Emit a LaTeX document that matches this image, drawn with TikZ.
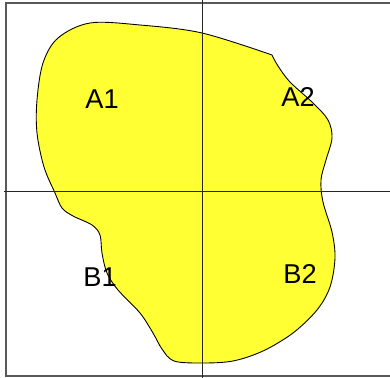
\documentclass[tikz,border=0pt]{standalone}
\usepackage{fontspec}
\setmainfont{Liberation Sans}
\usetikzlibrary{positioning}
\definecolor{blobyellow}{RGB}{255,255,51}

\begin{document}
\begin{tikzpicture}[
    x=0.02cm, y=-0.02cm,
    frame/.style={draw=black!65, line width=0.8pt},
    axis/.style={draw=black!85, line width=0.5pt},
    region/.style={fill=blobyellow, draw=black, line width=0.5pt},
    quad/.style={font=\fontsize{15.5}{18}\selectfont, inner sep=0pt}
]
    \useasboundingbox (0,0) rectangle (390,378);

    % 区域
    \path[region] plot[smooth, tension=0.55] coordinates {
        (272,55) (278,66) (290,82) (313,103) (328,120) (332,138)
        (326,160) (321,180) (323,202) (332,232) (335,258) (330,287)
        (317,310) (293,333) (263,351) (233,361) (202,363) (174,361)
        (162,349) (153,333) (140,313) (118,290) (107,273) (102,253)
        (100,235) (92,225) (73,216) (62,208) (55,193) (44,167)
        (37,133) (37,100) (43,63) (58,38) (90,23) (140,25)
        (202,33) (272,55)} -- cycle;

    % 边框与坐标轴
    \coordinate (tl) at (6,3);
    \coordinate (tr) at (390,3);
    \coordinate (bl) at (6,376);
    \coordinate (br) at (390,376);
    \coordinate (top) at (202,0);
    \coordinate (bot) at (202,378);
    \coordinate (lft) at (4,191);
    \coordinate (rgt) at (390,191);
    \draw[frame] (tr) -- (tl) -- (bl) -- (br);
    \draw[axis] (top) -- (bot);
    \draw[axis] (lft) -- (rgt);

    % 标签
    \node[quad] (a1) at (102,99) {A1};
    \node[quad] (a2) at (298,97) {A2};
    \node[quad] (b1) at (100,277) {B1};
    \node[quad] (b2) at (300,274) {B2};
\end{tikzpicture}
\end{document}
